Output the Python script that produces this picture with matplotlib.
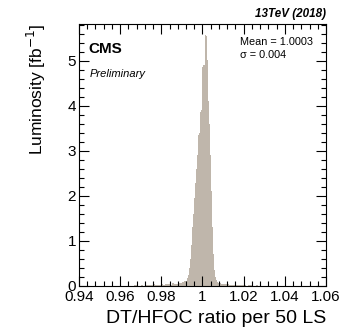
import numpy as np
import matplotlib
matplotlib.use("Agg")
import matplotlib.pyplot as plt
from matplotlib.ticker import MultipleLocator

plt.rcParams['font.family'] = ['Liberation Sans', 'DejaVu Sans']

# tails use 0.001 wide bins, the core 0.0005 wide bins
left_tail = [0, 0, 0, 0, 0, 0, 0, 0, 0, 0,
             0, 0, 0, 0, 0, 0, 0, 0, 0, 0,
             0, 0, 0.01, 0, 0.01, 0, 0.01, 0.02, 0.01, 0.01,
             0.02, 0.01, 0.03, 0.02, 0.02, 0.03, 0.04, 0.02, 0.03, 0.03,
             0.04, 0.03, 0.05, 0.04, 0.03, 0.06, 0.05, 0.04, 0.07, 0.06,
             0.08, 0.1]
core = [0.12, 0.18, 0.25, 0.4, 0.6, 0.9, 1.3, 1.6,
        1.95, 2.29, 2.6, 2.9, 3.36, 3.4, 3.87, 3.9,
        4.87, 4.9, 5.58, 5.55, 5.02, 4.1, 3.6, 2.9,
        2.1, 1.3, 0.7, 0.36, 0.2, 0.13, 0.08, 0.07]
right_tail = [0.06, 0.05, 0.05, 0.04, 0.04, 0.03, 0.03, 0.02, 0.03, 0.02,
              0.02, 0.03, 0.02, 0.01, 0.02, 0.02, 0.01, 0.01, 0.02, 0.01,
              0.01, 0.01, 0, 0.01, 0, 0.01, 0, 0, 0.01, 0,
              0, 0, 0, 0, 0, 0, 0, 0, 0, 0,
              0, 0, 0, 0, 0, 0, 0, 0, 0, 0,
              0, 0]

edges = np.concatenate([
    np.linspace(0.94, 0.992, len(left_tail) + 1)[:-1],
    np.linspace(0.992, 1.008, len(core) + 1)[:-1],
    np.linspace(1.008, 1.06, len(right_tail) + 1),
])
values = np.array(left_tail + core + right_tail)

fig = plt.figure(figsize=(3.4, 3.32), dpi=100)
ax = fig.add_axes([0.232, 0.1386, 0.727, 0.789])

ax.stairs(values, edges, fill=True, color='#bfb6ab', linewidth=0)

ax.set_xlim(0.94, 1.06)
ax.set_ylim(0, 5.82)
ax.set_xticks([0.94, 0.96, 0.98, 1.0, 1.02, 1.04, 1.06])
ax.set_xticklabels(['0.94', '0.96', '0.98', '1', '1.02', '1.04', '1.06'])
ax.xaxis.set_minor_locator(MultipleLocator(0.004))
ax.yaxis.set_major_locator(MultipleLocator(1))
ax.yaxis.set_minor_locator(MultipleLocator(0.2))
ax.tick_params(which='both', direction='in', top=True, right=True,
               labelsize=11, width=0.8)
ax.tick_params(which='major', length=7)
ax.tick_params(which='minor', length=3.5)
ax.tick_params(axis='x', pad=3)
ax.tick_params(axis='y', pad=2)

ax.set_xlabel('DT/HFOC ratio per 50 LS', fontsize=14, loc='right')
ax.set_ylabel('Luminosity [fb$^{-1}$]', fontsize=12.5, loc='top')
ax.yaxis.set_label_coords(-0.125, 1.0)

ax.text(0.04, 0.93, 'CMS', transform=ax.transAxes, fontsize=11,
        fontweight='bold', va='top')
ax.text(0.045, 0.83, 'Preliminary', transform=ax.transAxes, fontsize=8,
        style='italic', va='top')
ax.text(0.65, 0.95, 'Mean = 1.0003', transform=ax.transAxes, fontsize=7.8,
        va='top')
ax.text(0.65, 0.90, '\u03c3 = 0.004', transform=ax.transAxes, fontsize=7.8,
        va='top')
ax.text(1.0, 1.015, '13TeV (2018)', transform=ax.transAxes, fontsize=8.4,
        fontweight='bold', style='italic', ha='right', va='bottom')

fig.savefig('out.png', dpi=100)
